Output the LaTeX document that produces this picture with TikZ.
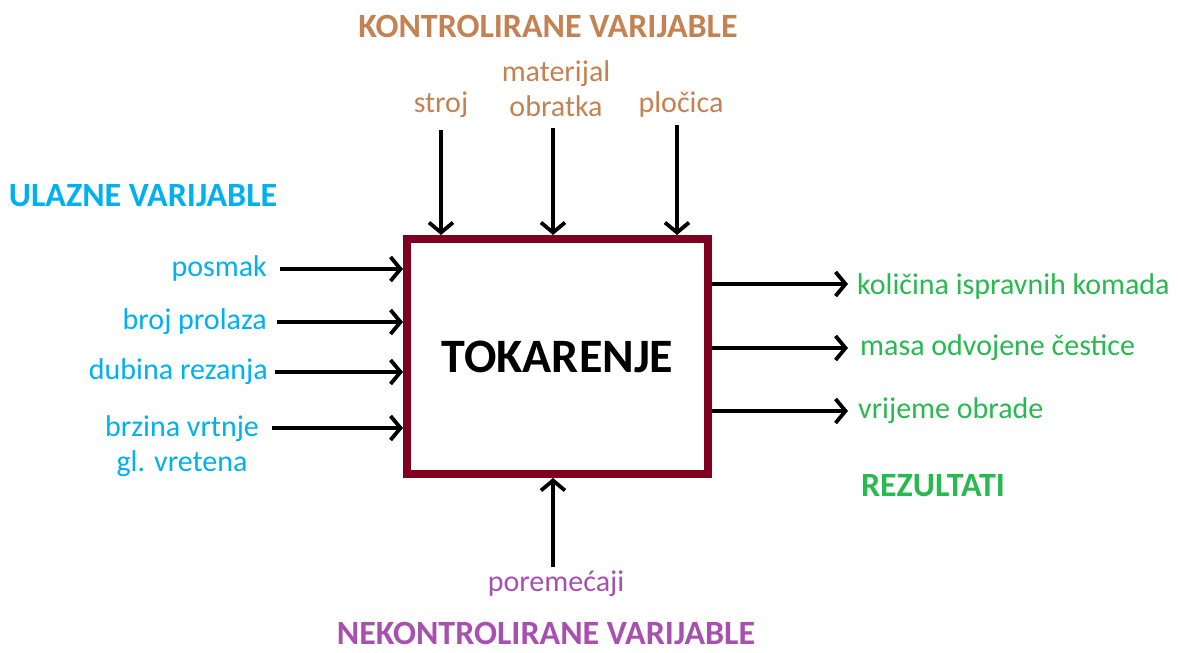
\documentclass[tikz,border=0pt]{standalone}
\usepackage{fontspec}
\setmainfont{Carlito}
\usetikzlibrary{arrows.meta}
\definecolor{boxred}{RGB}{128,0,32}
\definecolor{ctrlbrown}{RGB}{196,130,82}
\definecolor{inblue}{RGB}{0,176,240}
\definecolor{outgreen}{RGB}{40,185,80}
\definecolor{distpurple}{RGB}{168,80,176}
\begin{document}
\begin{tikzpicture}[x=1pt,y=-1pt,
    lbl/.style={inner sep=0pt, font=\fontsize{30}{35}\selectfont},
    head/.style={inner sep=0pt, font=\fontsize{34}{38}\selectfont\bfseries},
    arr/.style={line width=3.5pt, -{Straight Barb[length=10pt,width=24pt,line width=3.8pt]}}]
    \useasboundingbox (0,0) rectangle (1178,653);
    % Main process box
    \node[draw=boxred, line width=8pt, minimum width=301pt, minimum height=235pt,
          font=\fontsize{48}{54}\selectfont\bfseries] (box) at (557.5,356.5) {TOKARENJE};
    % Controlled variables
    \node[head, text=ctrlbrown] (ctrlhead) at (548,26) {KONTROLIRANE VARIJABLE};
    \node[lbl, text=ctrlbrown] (stroj) at (441,105) {stroj};
    \node[lbl, text=ctrlbrown, align=center] (materijal) at (556,89) {materijal\\obratka};
    \node[lbl, text=ctrlbrown] (plocica) at (681,105) {pločica};
    \coordinate (stroj start) at (441,130);
    \coordinate (materijal start) at (553,128);
    \coordinate (plocica start) at (677,125);
    \foreach \n in {stroj,materijal,plocica}
        \draw[arr] (\n\space start) -- (\n\space start |- box.north);
    % Input variables
    \node[head, text=inblue] (inhead) at (143,196) {ULAZNE VARIJABLE};
    \node[lbl, text=inblue, anchor=east] (posmak) at (267,268) {posmak};
    \node[lbl, text=inblue, anchor=east] (prolaz) at (267,322) {broj prolaza};
    \node[lbl, text=inblue, anchor=east] (dubina) at (268,372) {dubina rezanja};
    \node[lbl, text=inblue, align=center] (brzina) at (182,446) {brzina vrtnje\\gl. vretena};
    \coordinate (posmak start) at (280,269);
    \coordinate (prolaz start) at (277,322);
    \coordinate (dubina start) at (275,372);
    \coordinate (brzina start) at (272,428);
    \foreach \n in {posmak,prolaz,dubina,brzina}
        \draw[arr] (\n\space start) -- (\n\space start -| box.west);
    % Results
    \node[lbl, text=outgreen, anchor=west] (kolicina) at (857,286) {količina ispravnih komada};
    \node[lbl, text=outgreen, anchor=west] (masa) at (860,348) {masa odvojene čestice};
    \node[lbl, text=outgreen, anchor=west] (vrijeme) at (858,411) {vrijeme obrade};
    \node[head, text=outgreen] (outhead) at (933,486) {REZULTATI};
    \coordinate (kolicina end) at (848,284);
    \coordinate (masa end) at (848,348);
    \coordinate (vrijeme end) at (848,411);
    \foreach \n in {kolicina,masa,vrijeme}
        \draw[arr] (\n\space end -| box.east) -- (\n\space end);
    % Uncontrolled variables
    \node[lbl, text=distpurple] (poremecaji) at (556,584) {poremećaji};
    \node[head, text=distpurple] (disthead) at (546,633) {NEKONTROLIRANE VARIJABLE};
    \coordinate (poremecaji start) at (553,567);
    \draw[arr] (poremecaji start) -- (poremecaji start |- box.south);
\end{tikzpicture}
\end{document}
